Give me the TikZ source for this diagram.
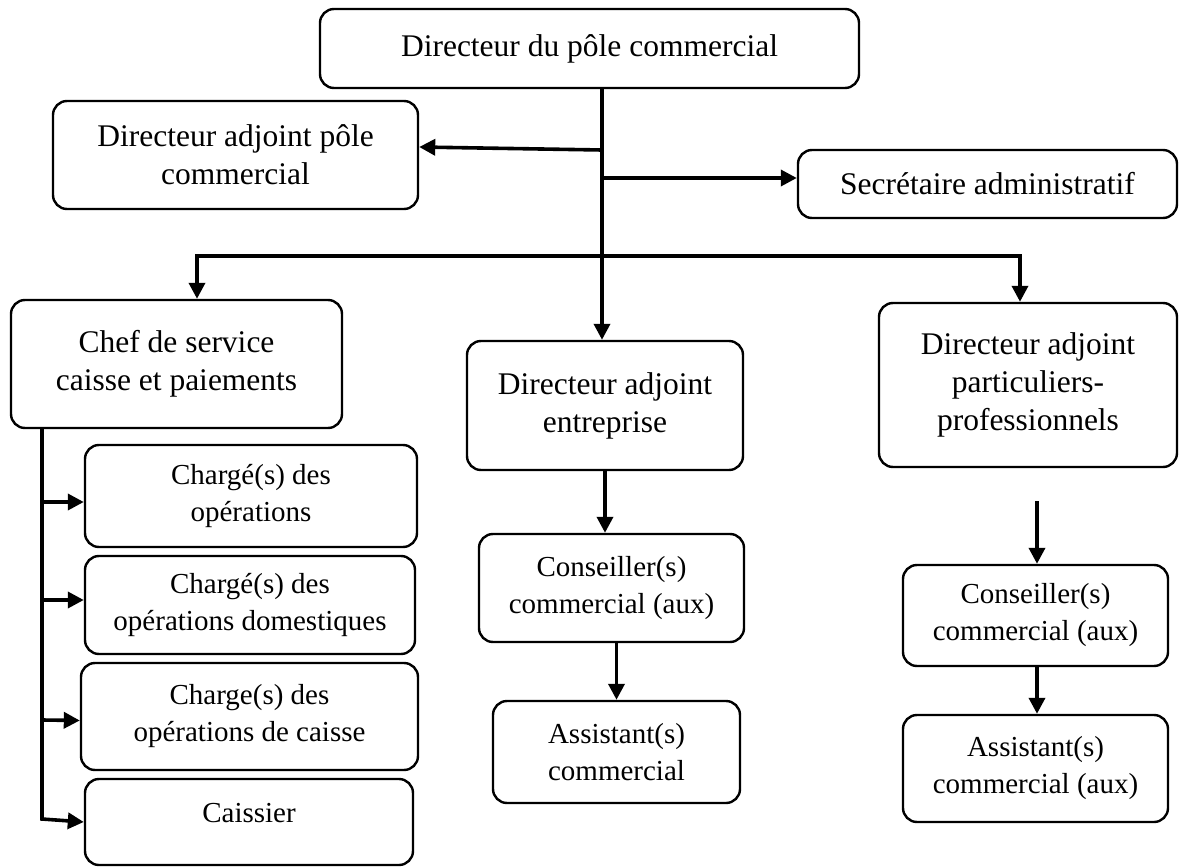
\documentclass[tikz,border=0pt]{standalone}
\usepackage{fontspec}
\setmainfont{Liberation Serif}
\usetikzlibrary{arrows.meta}
\begin{document}
\begin{tikzpicture}[x=1pt,y=-1pt,
  box/.style={draw, line width=2.4pt, rounded corners=14pt, align=center, inner sep=0pt},
  big/.style={font=\fontsize{31.5}{38}\selectfont},
  small/.style={font=\fontsize{29}{37}\selectfont},
  conn/.style={line width=3.6pt},
  arr/.style={conn, -{Triangle[length=16pt 0,width=16pt 0]}}]
\useasboundingbox (0,0) rectangle (1179,867);

% top level
\node[box, big, minimum width=539pt, minimum height=79pt] (dpc) at (589.5,48.5) {Directeur du pôle commercial};
\node[box, big, minimum width=365pt, minimum height=108pt] (dapc) at (235.5,155) {Directeur adjoint pôle\\commercial};
\node[box, big, minimum width=379pt, minimum height=68pt] (sec) at (987.5,184) {Secrétaire administratif};

% second level
\node[box, big, minimum width=331pt, minimum height=128pt] (chef) at (176.5,364) {Chef de service\\caisse et paiements};
\node[box, big, minimum width=276pt, minimum height=129pt] (dae) at (605,405.5) {Directeur adjoint\\entreprise};
\node[box, big, minimum width=298pt, minimum height=164pt] (dapp) at (1028,385) {Directeur adjoint\\particuliers-\\professionnels};

% caisse et paiements
\node[box, small, minimum width=332pt, minimum height=102pt] (c1) at (251,496) {Chargé(s) des\\opérations};
\node[box, small, minimum width=330pt, minimum height=98pt] (c2) at (250,605) {Chargé(s) des\\opérations domestiques};
\node[box, small, minimum width=337pt, minimum height=107pt] (c3) at (249.5,716.5) {Charge(s) des\\opérations de caisse};
\node[box, small, minimum width=328pt, minimum height=86pt, text height=10pt, text depth=9pt] (c4) at (249,822) {Caissier};

% entreprise
\node[box, small, minimum width=265pt, minimum height=108pt] (cm) at (611.5,588) {Conseiller(s)\\commercial (aux)};
\node[box, small, minimum width=247pt, minimum height=102pt] (am) at (616.5,752) {Assistant(s)\\commercial};

% particuliers-professionnels
\node[box, small, minimum width=265pt, minimum height=101pt] (cr) at (1035.5,615.5) {Conseiller(s)\\commercial (aux)};
\node[box, small, minimum width=265pt, minimum height=107pt] (ar) at (1035.5,768.5) {Assistant(s)\\commercial (aux)};

% trunk and branches
\coordinate (trunk) at (602,0);
\coordinate (jl) at (602,150);
\coordinate (jr) at (602,178);
\coordinate (barL) at (197,256);
\coordinate (barR) at (1020,256);
\draw[arr] (dpc.south -| trunk) -- (trunk |- dae.north);
\draw[arr] (jl) -- ([yshift=8pt]dapc.east);
\draw[arr] (jr) -- (jr -| sec.west);
\draw[arr] (barR) -- (barL) -- (barL |- chef.north);
\draw[arr] (barL) -- (barR) -- (barR |- dapp.north);

% entreprise column
\draw[arr] (dae.south) -- (dae.south |- cm.north);
\draw[arr] (cm.south -| am.north) -- (am.north);

% particuliers-professionnels column
\coordinate (rtop) at (1037,501);
\draw[arr] (rtop) -- (rtop |- cr.north);
\draw[arr] (cr.south -| rtop) -- (rtop |- ar.north);

% caisse et paiements spine
\coordinate (spine) at (42,819);
\coordinate (a1) at (42,502);
\coordinate (a2) at (42,600);
\coordinate (a3) at (42,720);
\draw[arr] (chef.south -| spine) -- (spine) -- (c4.west);
\draw[arr] (a1) -- (a1 -| c1.west);
\draw[arr] (a2) -- (a2 -| c2.west);
\draw[arr] (a3) -- ([yshift=-4pt]c3.west);
\end{tikzpicture}
\end{document}
